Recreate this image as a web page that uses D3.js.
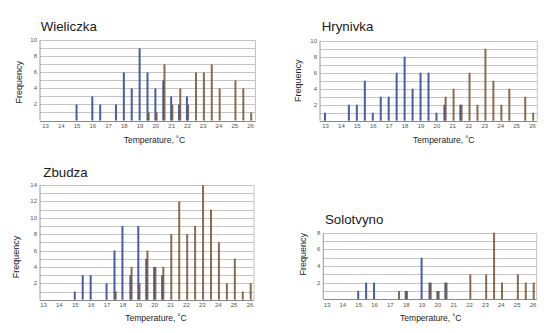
<!DOCTYPE html>
<html><head><meta charset="utf-8">
<script src="https://cdn.jsdelivr.net/npm/d3@7"></script>
<style>
html,body{margin:0;padding:0;background:#fff;}
svg{display:block;font-family:"Liberation Sans",Arial,sans-serif;}
</style></head>
<body><svg id="c" width="550" height="333"></svg>
<script>
// Temperature bins (°C), half-degree steps
const bins = d3.range(13, 26.01, 0.5);
const xTicks = d3.range(13, 27, 1);
const panelNames = ["Wieliczka", "Hrynivka", "Zbudza", "Solotvyno"];
const yMaxes = [10, 10, 14, 8];
// series 1 (blue) and series 2 (brown) frequencies per bin
const wieliczkaBlue  = [0,0,0,0,2,0,3,2,0,2,6,4,9,6,4,5,3,2,3,0,0,0,0,0,0,0,0];
const wieliczkaBrown = [0,0,0,0,0,0,0,0,0,0,0,0,0,1,1,7,2,4,2,6,6,7,4,0,5,4,1];
const hrynivkaBlue   = [1,0,0,2,2,5,1,3,3,6,8,4,6,6,1,2,0,2,0,0,0,0,0,0,0,0,0];
const hrynivkaBrown  = [0,0,0,0,0,0,0,0,0,0,0,0,0,0,0,3,4,2,6,2,9,5,2,4,0,3,1];
const zbudzaBlue     = [0,0,0,0,1,3,3,0,2,6,9,3,9,5,4,3,0,0,0,0,0,0,0,0,0,0,0];
const zbudzaBrown    = [0,0,0,0,0,0,0,0,0,1,0,4,2,6,4,4,8,12,8,9,14,11,7,2,5,1,2];
const solotvynoBlue  = [0,0,0,0,1,2,2,0,0,0,1,0,5,2,1,2,0,0,0,0,0,0,0,0,0,0,0];
const solotvynoBrown = [0,0,0,0,0,0,0,0,0,1,1,0,0,2,1,2,0,0,3,0,3,8,2,0,3,2,2];
const blueSeries = [wieliczkaBlue, hrynivkaBlue, zbudzaBlue, solotvynoBlue];
const brownSeries = [wieliczkaBrown, hrynivkaBrown, zbudzaBrown, solotvynoBrown];

// layout (pixels)
const layout = [
  {x13:45.5, x26:250.5, left:40, right:255.5, top:40.3, bottom:120.5, tx:40.7, ty:30.7, fx:21.5, fy:82.2, lx:154.4, ly:143.3},
  {x13:325.5, x26:532.5, left:320, right:537.3, top:40.7, bottom:120.7, tx:321.7, ty:30.7, fx:300.5, fy:80.8, lx:443.8, ly:142.7},
  {x13:43.5, x26:250, left:40, right:254, top:185, bottom:299.7, tx:43.3, ty:176.7, fx:19, fy:257, lx:156, ly:321},
  {x13:327, x26:533, left:323.3, right:536.7, top:232.7, bottom:299.3, tx:325, ty:224, fx:306, fy:254.3, lx:430.8, ly:320.7}
];
const blueColor = "#4a5ca6", brownColor = "#74532f";

const svg = d3.select("#c");
panelNames.forEach((name, i) => {
  const L = layout[i];
  const g = svg.append("g");
  const x = d3.scaleLinear().domain([13, 26]).range([L.x13, L.x26]);
  const y = d3.scaleLinear().domain([0, yMaxes[i]]).range([L.bottom, L.top]);
  // grid lines every unit
  g.selectAll("line.grid").data(d3.range(1, yMaxes[i] + 1)).enter().append("line")
    .attr("x1", L.left).attr("x2", L.right)
    .attr("y1", d => Math.round(y(d)) + 0.5).attr("y2", d => Math.round(y(d)) + 0.5)
    .attr("stroke", "#c4c4c4").attr("stroke-width", 1);
  // frame
  g.append("line").attr("x1", L.left).attr("x2", L.left).attr("y1", L.top).attr("y2", L.bottom).attr("stroke", "#9a9a9a");
  g.append("line").attr("x1", L.right).attr("x2", L.right).attr("y1", L.top).attr("y2", L.bottom).attr("stroke", "#c4c4c4");
  g.append("line").attr("x1", L.left).attr("x2", L.right).attr("y1", Math.round(L.bottom) + 0.5).attr("y2", Math.round(L.bottom) + 0.5).attr("stroke", "#8a8a8a");
  // bars
  const bw = 2;
  g.selectAll("rect.blue").data(bins.map((b, k) => ({b, v: blueSeries[i][k]})).filter(d => d.v > 0))
    .enter().append("rect")
    .attr("x", d => x(d.b) - 1.5).attr("width", bw)
    .attr("y", d => y(d.v)).attr("height", d => y(0) - y(d.v))
    .attr("fill", blueColor);
  g.selectAll("rect.brown").data(bins.map((b, k) => ({b, v: brownSeries[i][k]})).filter(d => d.v > 0))
    .enter().append("rect")
    .attr("x", d => x(d.b) - 0.3).attr("width", bw)
    .attr("y", d => y(d.v)).attr("height", d => y(0) - y(d.v))
    .attr("fill", brownColor).attr("fill-opacity", 0.85);
  // x tick labels
  g.selectAll("text.xt").data(xTicks).enter().append("text")
    .attr("x", d => x(d)).attr("y", L.bottom + 7.5)
    .attr("text-anchor", "middle").attr("font-size", 6).attr("fill", "#555")
    .text(d => d);
  // y tick labels
  g.selectAll("text.yt").data(d3.range(2, yMaxes[i] + 1, 2)).enter().append("text")
    .attr("x", L.left - 3).attr("y", d => y(d) + 2)
    .attr("text-anchor", "end").attr("font-size", 6).attr("fill", "#555")
    .text(d => d);
  // title
  g.append("text").attr("x", L.tx).attr("y", L.ty).attr("font-size", 13.3).attr("fill", "#1a1a1a").text(name);
  // axis labels
  g.append("text").attr("transform", `translate(${L.fx},${L.fy}) rotate(-90)`)
    .attr("text-anchor", "middle").attr("font-size", 9).attr("fill", "#222").text("Frequency");
  g.append("text").attr("x", L.lx).attr("y", L.ly).attr("text-anchor", "middle")
    .attr("font-size", 8.5).attr("fill", "#222").text("Temperature, ˚C");
});
</script></body></html>
